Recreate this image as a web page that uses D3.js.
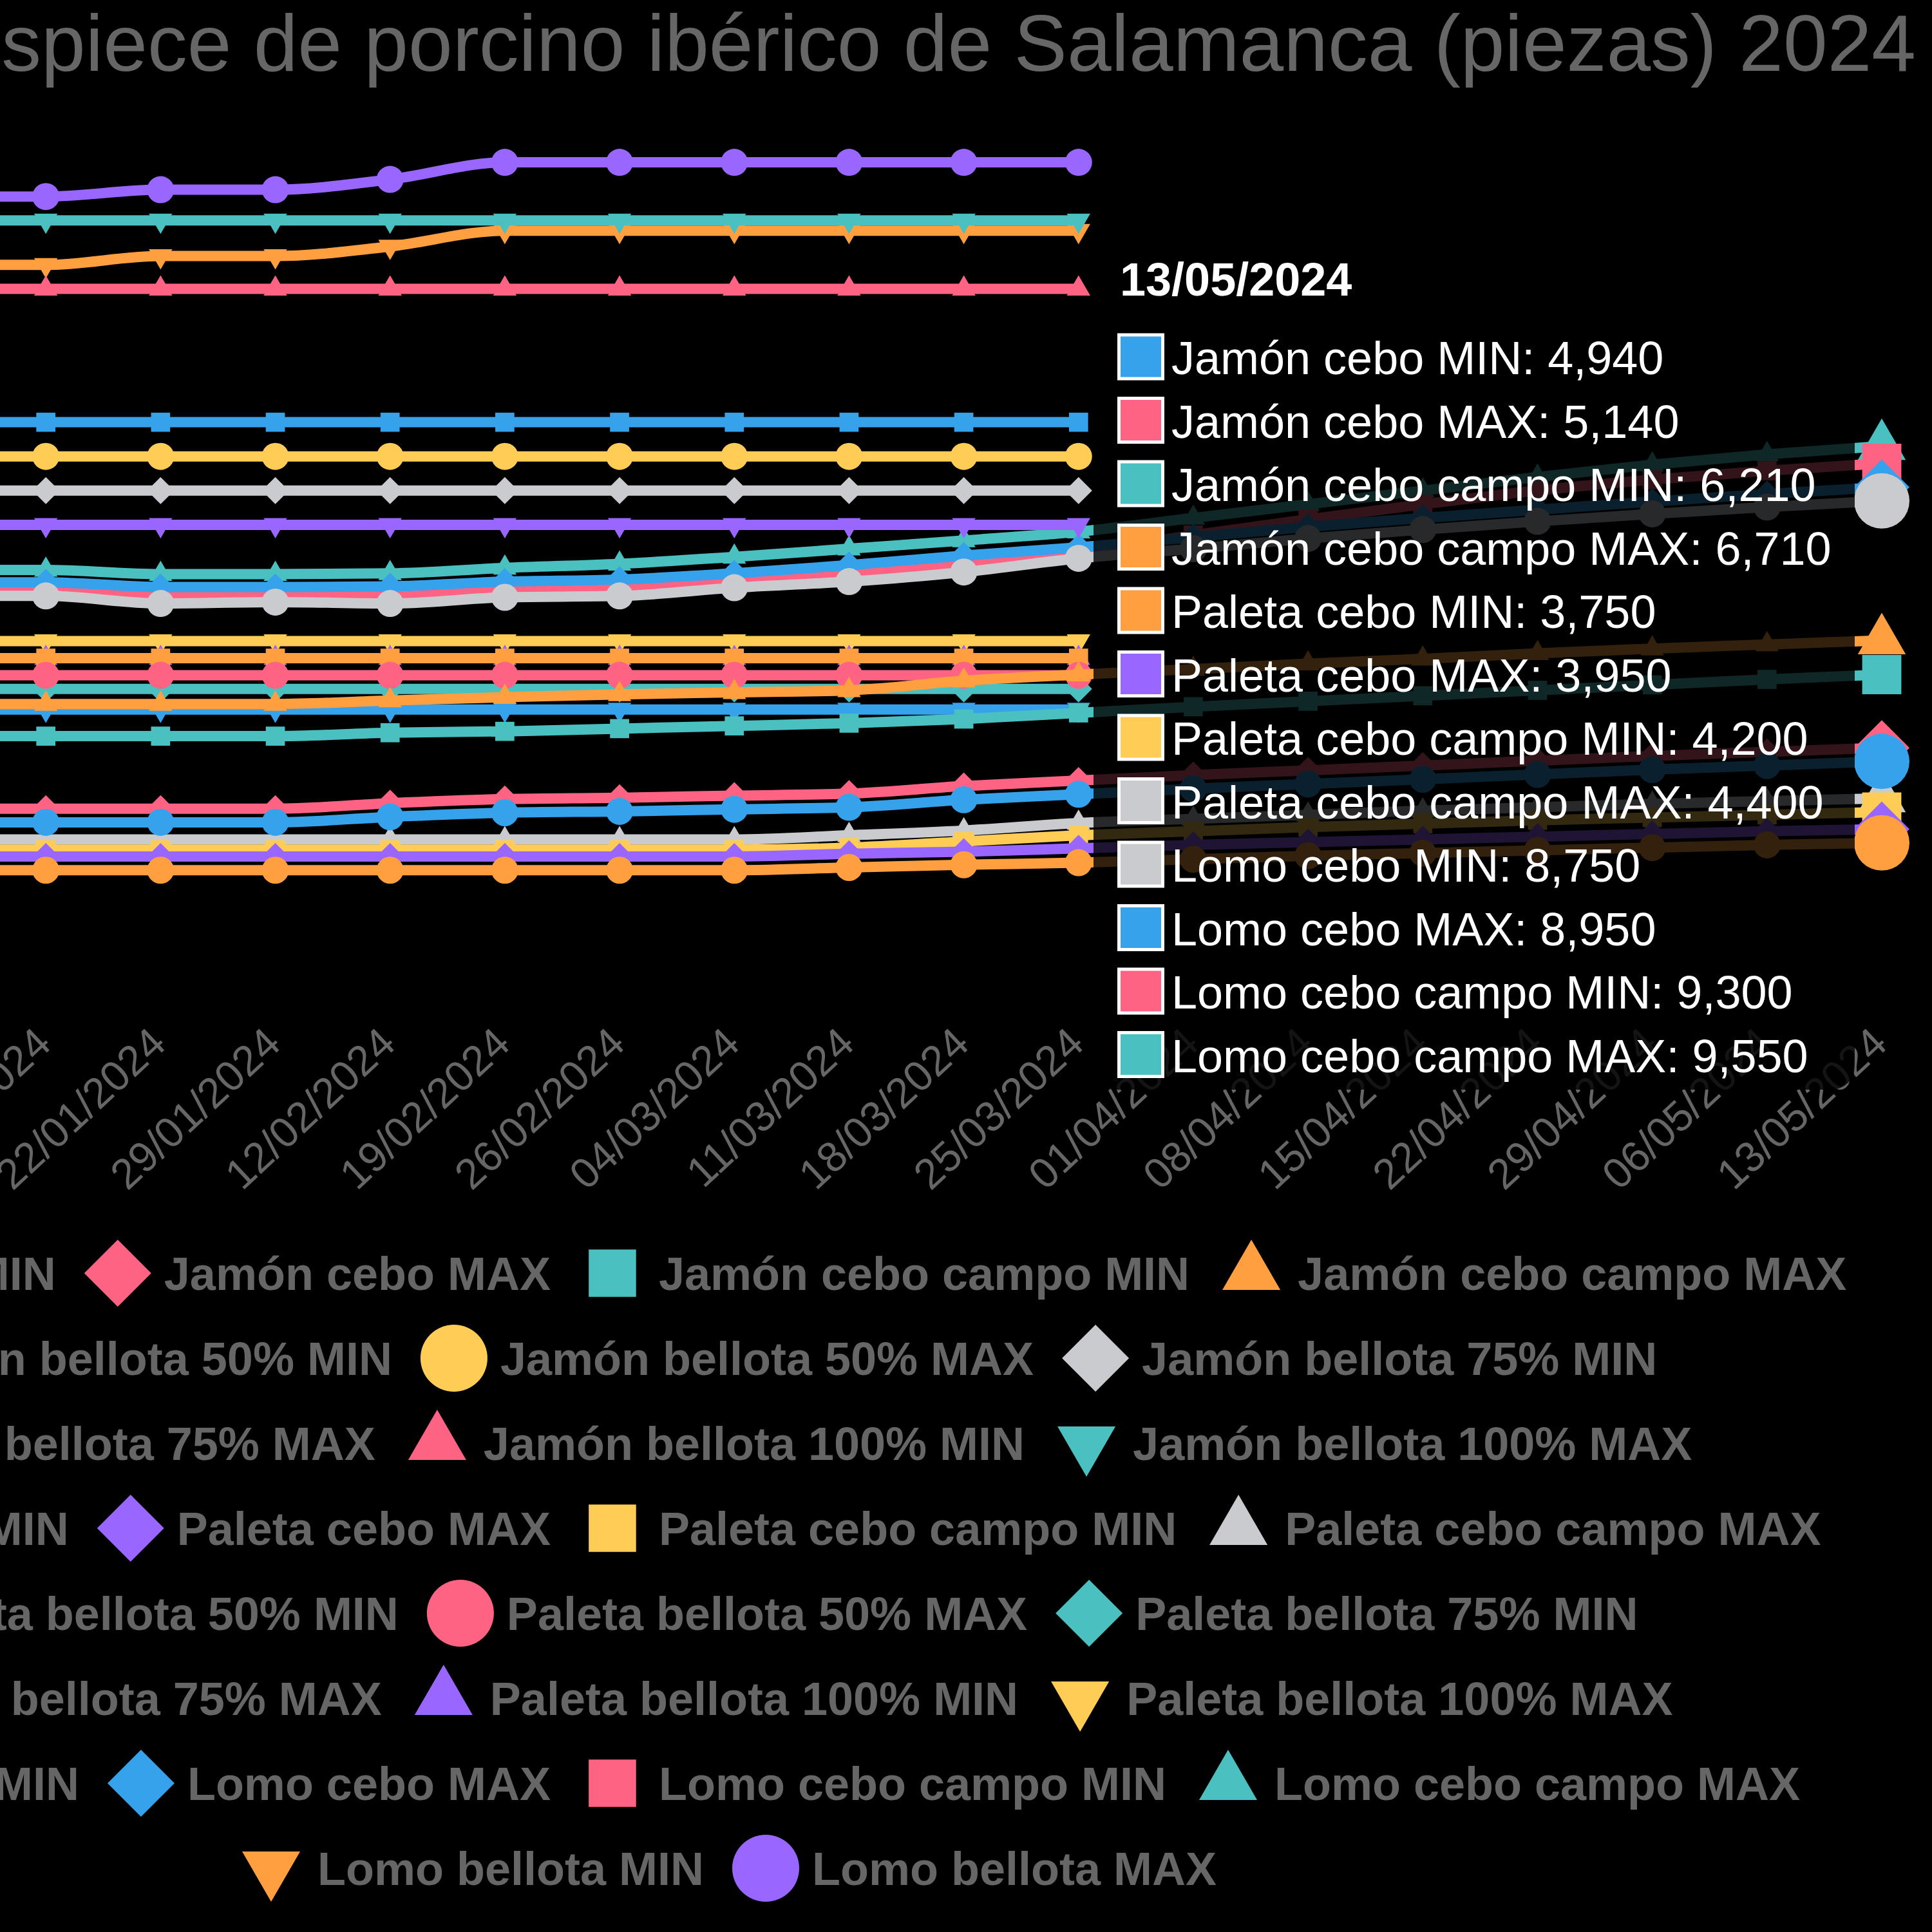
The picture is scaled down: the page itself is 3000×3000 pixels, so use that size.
<!DOCTYPE html>
<html>
<head>
<meta charset="utf-8">
<script src="https://cdn.jsdelivr.net/npm/d3@7"></script>
<style>
  body { margin: 0; background: #000; }
  svg { display: block; }
</style>
</head>
<body>
<script>
// weekly dates (08/01 sits just off the left edge of the crop)
const dates = ["08/01/2024", "15/01/2024", "22/01/2024", "29/01/2024", "12/02/2024", "19/02/2024",
  "26/02/2024", "04/03/2024", "11/03/2024", "18/03/2024", "25/03/2024", "01/04/2024", "08/04/2024",
  "15/04/2024", "22/04/2024", "29/04/2024", "06/05/2024", "13/05/2024"];

const seriesNames = ["Jamón cebo MIN", "Jamón cebo MAX", "Jamón cebo campo MIN", "Jamón cebo campo MAX",
  "Jamón bellota 50% MIN", "Jamón bellota 50% MAX", "Jamón bellota 75% MIN", "Jamón bellota 75% MAX",
  "Jamón bellota 100% MIN", "Jamón bellota 100% MAX", "Paleta cebo MIN", "Paleta cebo MAX",
  "Paleta cebo campo MIN", "Paleta cebo campo MAX", "Paleta bellota 50% MIN", "Paleta bellota 50% MAX",
  "Paleta bellota 75% MIN", "Paleta bellota 75% MAX", "Paleta bellota 100% MIN", "Paleta bellota 100% MAX",
  "Lomo cebo MIN", "Lomo cebo MAX", "Lomo cebo campo MIN", "Lomo cebo campo MAX",
  "Lomo bellota MIN", "Lomo bellota MAX"];

const jamonCeboMin = [4050, 4050, 4050, 4050, 4130, 4190, 4210, 4240, 4270, 4380, 4460, 4540, 4610, 4680, 4750, 4820, 4880, 4940];
const jamonCeboMax = [4250, 4250, 4250, 4250, 4330, 4390, 4410, 4440, 4470, 4580, 4660, 4740, 4810, 4880, 4950, 5020, 5080, 5140];
const jamonCeboCampoMin = [5310, 5310, 5310, 5310, 5360, 5380, 5420, 5460, 5500, 5560, 5650, 5740, 5820, 5900, 5980, 6060, 6140, 6210];
const jamonCeboCampoMax = [5780, 5780, 5780, 5780, 5830, 5880, 5920, 5950, 5980, 6120, 6210, 6290, 6370, 6440, 6520, 6590, 6650, 6710];
const jamonBellota50Min = [8400, 8400, 8400, 8400, 8400, 8400, 8400, 8400, 8400, 8400, 8400, null, null, null, null, null, null, null];
const jamonBellota50Max = [9400, 9400, 9400, 9400, 9400, 9400, 9400, 9400, 9400, 9400, 9400, null, null, null, null, null, null, null];
const jamonBellota75Min = [8900, 8900, 8900, 8900, 8900, 8900, 8900, 8900, 8900, 8900, 8900, null, null, null, null, null, null, null];
const jamonBellota75Max = [9900, 9900, 9900, 9900, 9900, 9900, 9900, 9900, 9900, 9900, 9900, null, null, null, null, null, null, null];
const jamonBellota100Min = [11850, 11850, 11850, 11850, 11850, 11850, 11850, 11850, 11850, 11850, 11850, null, null, null, null, null, null, null];
const jamonBellota100Max = [12850, 12850, 12850, 12850, 12850, 12850, 12850, 12850, 12850, 12850, 12850, null, null, null, null, null, null, null];
const paletaCeboMin = [3350, 3350, 3350, 3350, 3350, 3350, 3350, 3350, 3390, 3430, 3460, 3510, 3560, 3600, 3640, 3680, 3720, 3750];
const paletaCeboMax = [3550, 3550, 3550, 3550, 3550, 3550, 3550, 3550, 3590, 3620, 3670, 3720, 3760, 3800, 3840, 3880, 3920, 3950];
const paletaCeboCampoMin = [3650, 3650, 3650, 3650, 3650, 3650, 3650, 3650, 3680, 3770, 3860, 3920, 3980, 4030, 4080, 4120, 4160, 4200];
const paletaCeboCampoMax = [3800, 3800, 3800, 3800, 3800, 3800, 3800, 3800, 3860, 3930, 4040, 4100, 4160, 4220, 4270, 4320, 4360, 4400];
const paletaBellota50Min = [5700, 5700, 5700, 5700, 5700, 5700, 5700, 5700, 5700, 5700, 5700, null, null, null, null, null, null, null];
const paletaBellota50Max = [6200, 6200, 6200, 6200, 6200, 6200, 6200, 6200, 6200, 6200, 6200, null, null, null, null, null, null, null];
const paletaBellota75Min = [6000, 6000, 6000, 6000, 6000, 6000, 6000, 6000, 6000, 6000, 6000, null, null, null, null, null, null, null];
const paletaBellota75Max = [6450, 6450, 6450, 6450, 6450, 6450, 6450, 6450, 6450, 6450, 6450, null, null, null, null, null, null, null];
const paletaBellota100Min = [6450, 6450, 6450, 6450, 6450, 6450, 6450, 6450, 6450, 6450, 6450, null, null, null, null, null, null, null];
const paletaBellota100Max = [6700, 6700, 6700, 6700, 6700, 6700, 6700, 6700, 6700, 6700, 6700, null, null, null, null, null, null, null];
const lomoCeboMin = [7360, 7360, 7250, 7270, 7250, 7340, 7360, 7480, 7570, 7710, 7910, 8050, 8200, 8330, 8450, 8560, 8660, 8750];
const lomoCeboMax = [7560, 7560, 7490, 7490, 7500, 7570, 7600, 7690, 7810, 7950, 8070, 8220, 8370, 8500, 8620, 8740, 8850, 8950];
const lomoCeboCampoMin = [7460, 7460, 7370, 7380, 7370, 7450, 7480, 7590, 7690, 7830, 8000, 8250, 8480, 8700, 8900, 9060, 9190, 9300];
const lomoCeboCampoMax = [7740, 7740, 7680, 7680, 7690, 7770, 7830, 7930, 8050, 8170, 8300, 8500, 8700, 8900, 9100, 9280, 9430, 9550];
const lomoBellotaMin = [12200, 12200, 12330, 12330, 12470, 12700, 12700, 12700, 12700, 12700, 12700, null, null, null, null, null, null, null];
const lomoBellotaMax = [13200, 13200, 13300, 13300, 13450, 13700, 13700, 13700, 13700, 13700, 13700, null, null, null, null, null, null, null];

const seriesValues = [jamonCeboMin, jamonCeboMax, jamonCeboCampoMin, jamonCeboCampoMax,
  jamonBellota50Min, jamonBellota50Max, jamonBellota75Min, jamonBellota75Max, jamonBellota100Min, jamonBellota100Max,
  paletaCeboMin, paletaCeboMax, paletaCeboCampoMin, paletaCeboCampoMax,
  paletaBellota50Min, paletaBellota50Max, paletaBellota75Min, paletaBellota75Max, paletaBellota100Min, paletaBellota100Max,
  lomoCeboMin, lomoCeboMax, lomoCeboCampoMin, lomoCeboCampoMax, lomoBellotaMin, lomoBellotaMax];

const chartTitle = "Precios de despiece de porcino ibérico de Salamanca (piezas) 2024";
const hoverDate = "13/05/2024";

const palette = ["#36a2eb", "#ff6384", "#4bc0c0", "#ff9f40", "#9966ff", "#ffcd56", "#c9cbcf"];
const shapes = ["circle", "rectRot", "rect", "triangle", "triangleDown"];

const font = "'Liberation Sans', Arial, Helvetica, sans-serif";

const series = seriesNames.map((name, i) => ({
  name: name,
  color: palette[i % palette.length],
  shape: shapes[i % shapes.length],
  values: dates.map((d, j) => ({ date: d, value: seriesValues[i][j] }))
}));

// point style paths, sized like chart.js pointStyles
function markerPath(shape, r) {
  const c = Math.cos(Math.PI / 6) * r;
  const h = r * Math.SQRT1_2;
  switch (shape) {
    case "rectRot": return `M0,${-r}L${r},0L0,${r}L${-r},0Z`;
    case "rect": return `M${-h},${-h}L${h},${-h}L${h},${h}L${-h},${h}Z`;
    case "triangle": return `M0,${-r}L${c},${r / 2}L${-c},${r / 2}Z`;
    case "triangleDown": return `M0,${r}L${c},${-r / 2}L${-c},${-r / 2}Z`;
    default: return `M${r},0A${r},${r} 0 1,1 ${-r},0A${r},${r} 0 1,1 ${r},0Z`;
  }
}

const svg = d3.select("body").append("svg")
  .attr("width", 3000)
  .attr("height", 3000)
  .style("background", "#000");

svg.append("rect").attr("width", 3000).attr("height", 3000).attr("fill", "#000");

// scales
const x = d3.scalePoint().domain(dates).range([-107, 2922]);
const y = d3.scaleLinear().domain([2000, 14000]).range([1494.6, 220.2]);

// title (the crop cuts its start)
svg.append("text")
  .attr("x", 2975)
  .attr("y", 110)
  .attr("text-anchor", "end")
  .style("font-family", font)
  .style("font-size", "123.5px")
  .attr("fill", "#666")
  .text(chartTitle);

// x axis with rotated labels
const xAxis = svg.append("g")
  .attr("transform", "translate(0,1604)")
  .call(d3.axisBottom(x).tickSize(0).tickPadding(0));
xAxis.select(".domain").remove();
xAxis.selectAll("text")
  .attr("x", -6)
  .attr("y", 0)
  .attr("dy", null)
  .attr("dominant-baseline", "central")
  .attr("transform", "rotate(-43)")
  .style("text-anchor", "end")
  .style("font-family", font)
  .style("font-size", "66px")
  .attr("fill", "#666");

// lines + points, drawn last dataset first so dataset 0 ends on top
const line = d3.line()
  .defined(d => d.value != null)
  .x(d => x(d.date))
  .y(d => y(d.value))
  .curve(d3.curveMonotoneX);

const plot = svg.append("g");
for (let i = series.length - 1; i >= 0; i--) {
  const s = series[i];
  const g = plot.append("g");
  g.append("path")
    .datum(s.values)
    .attr("d", line)
    .attr("fill", "none")
    .attr("stroke", s.color)
    .attr("stroke-width", 16);
  g.selectAll(".pt")
    .data(s.values.filter(d => d.value != null))
    .join("path")
    .attr("class", "pt")
    .attr("transform", d => `translate(${x(d.date)},${y(d.value)})`)
    .attr("d", markerPath(s.shape, 21))
    .attr("fill", s.color);
  // hovered point
  const hv = s.values.find(d => d.date === hoverDate && d.value != null);
  if (hv) {
    g.append("path")
      .attr("transform", `translate(${x(hv.date)},${y(hv.value)})`)
      .attr("d", markerPath(s.shape, 43))
      .attr("fill", s.color);
  }
}

// tooltip
const tipItems = series
  .map(s => ({ name: s.name, color: s.color, v: s.values.find(d => d.date === hoverDate).value }))
  .filter(d => d.v != null);

const tip = svg.append("g");
tip.append("rect")
  .attr("x", 1698)
  .attr("y", 376)
  .attr("width", 1182)
  .attr("height", 1316)
  .attr("rx", 36)
  .attr("fill", "rgba(0,0,0,0.8)");

tip.append("text")
  .attr("x", 1739)
  .attr("y", 459)
  .style("font-family", font)
  .style("font-size", "72px")
  .style("font-weight", "bold")
  .attr("fill", "#fff")
  .text(hoverDate);

const fmt = d3.format(",");
const tipRows = tip.selectAll(".row")
  .data(tipItems)
  .join("g")
  .attr("class", "row")
  .attr("transform", (d, i) => `translate(0,${554 + i * 98.5})`);
tipRows.append("rect")
  .attr("x", 1735).attr("y", -36.5)
  .attr("width", 73).attr("height", 73)
  .attr("fill", "#fff");
tipRows.append("rect")
  .attr("x", 1740).attr("y", -31.5)
  .attr("width", 63).attr("height", 63)
  .attr("fill", d => d.color);
tipRows.append("text")
  .attr("x", 1819)
  .attr("y", 27)
  .style("font-family", font)
  .style("font-size", "72px")
  .attr("fill", "#fff")
  .text(d => `${d.name}: ${fmt(d.v)}`);

// legend, rows filled greedily and centred like chart.js
const legendFontSize = 72;
const legend = svg.append("g");
const measure = legend.append("text")
  .style("font-family", font)
  .style("font-size", legendFontSize + "px")
  .style("font-weight", "bold");
const items = series.map(s => {
  measure.text(s.name);
  return { s: s, w: 108 + measure.node().getComputedTextLength() };
});
measure.remove();

const maxRowWidth = 3540;
const rows = [];
let cur = [], curW = 0;
items.forEach(it => {
  const add = (cur.length ? 60 : 0) + it.w;
  if (cur.length && curW + add > maxRowWidth) {
    rows.push({ items: cur, w: curW });
    cur = [];
    curW = it.w;
  } else {
    curW += add;
  }
  cur.push(it);
});
rows.push({ items: cur, w: curW });

rows.forEach((row, r) => {
  let lx = 1137 - row.w / 2;
  const ly = 1977 + r * 132;
  row.items.forEach(it => {
    legend.append("path")
      .attr("transform", `translate(${lx + 36},${ly})`)
      .attr("d", markerPath(it.s.shape, 52))
      .attr("fill", it.s.color);
    legend.append("text")
      .attr("x", lx + 108)
      .attr("y", ly + 26)
      .style("font-family", font)
      .style("font-size", legendFontSize + "px")
      .style("font-weight", "bold")
      .attr("fill", "#666")
      .text(it.s.name);
    lx += it.w + 60;
  });
});
</script>
</body>
</html>
